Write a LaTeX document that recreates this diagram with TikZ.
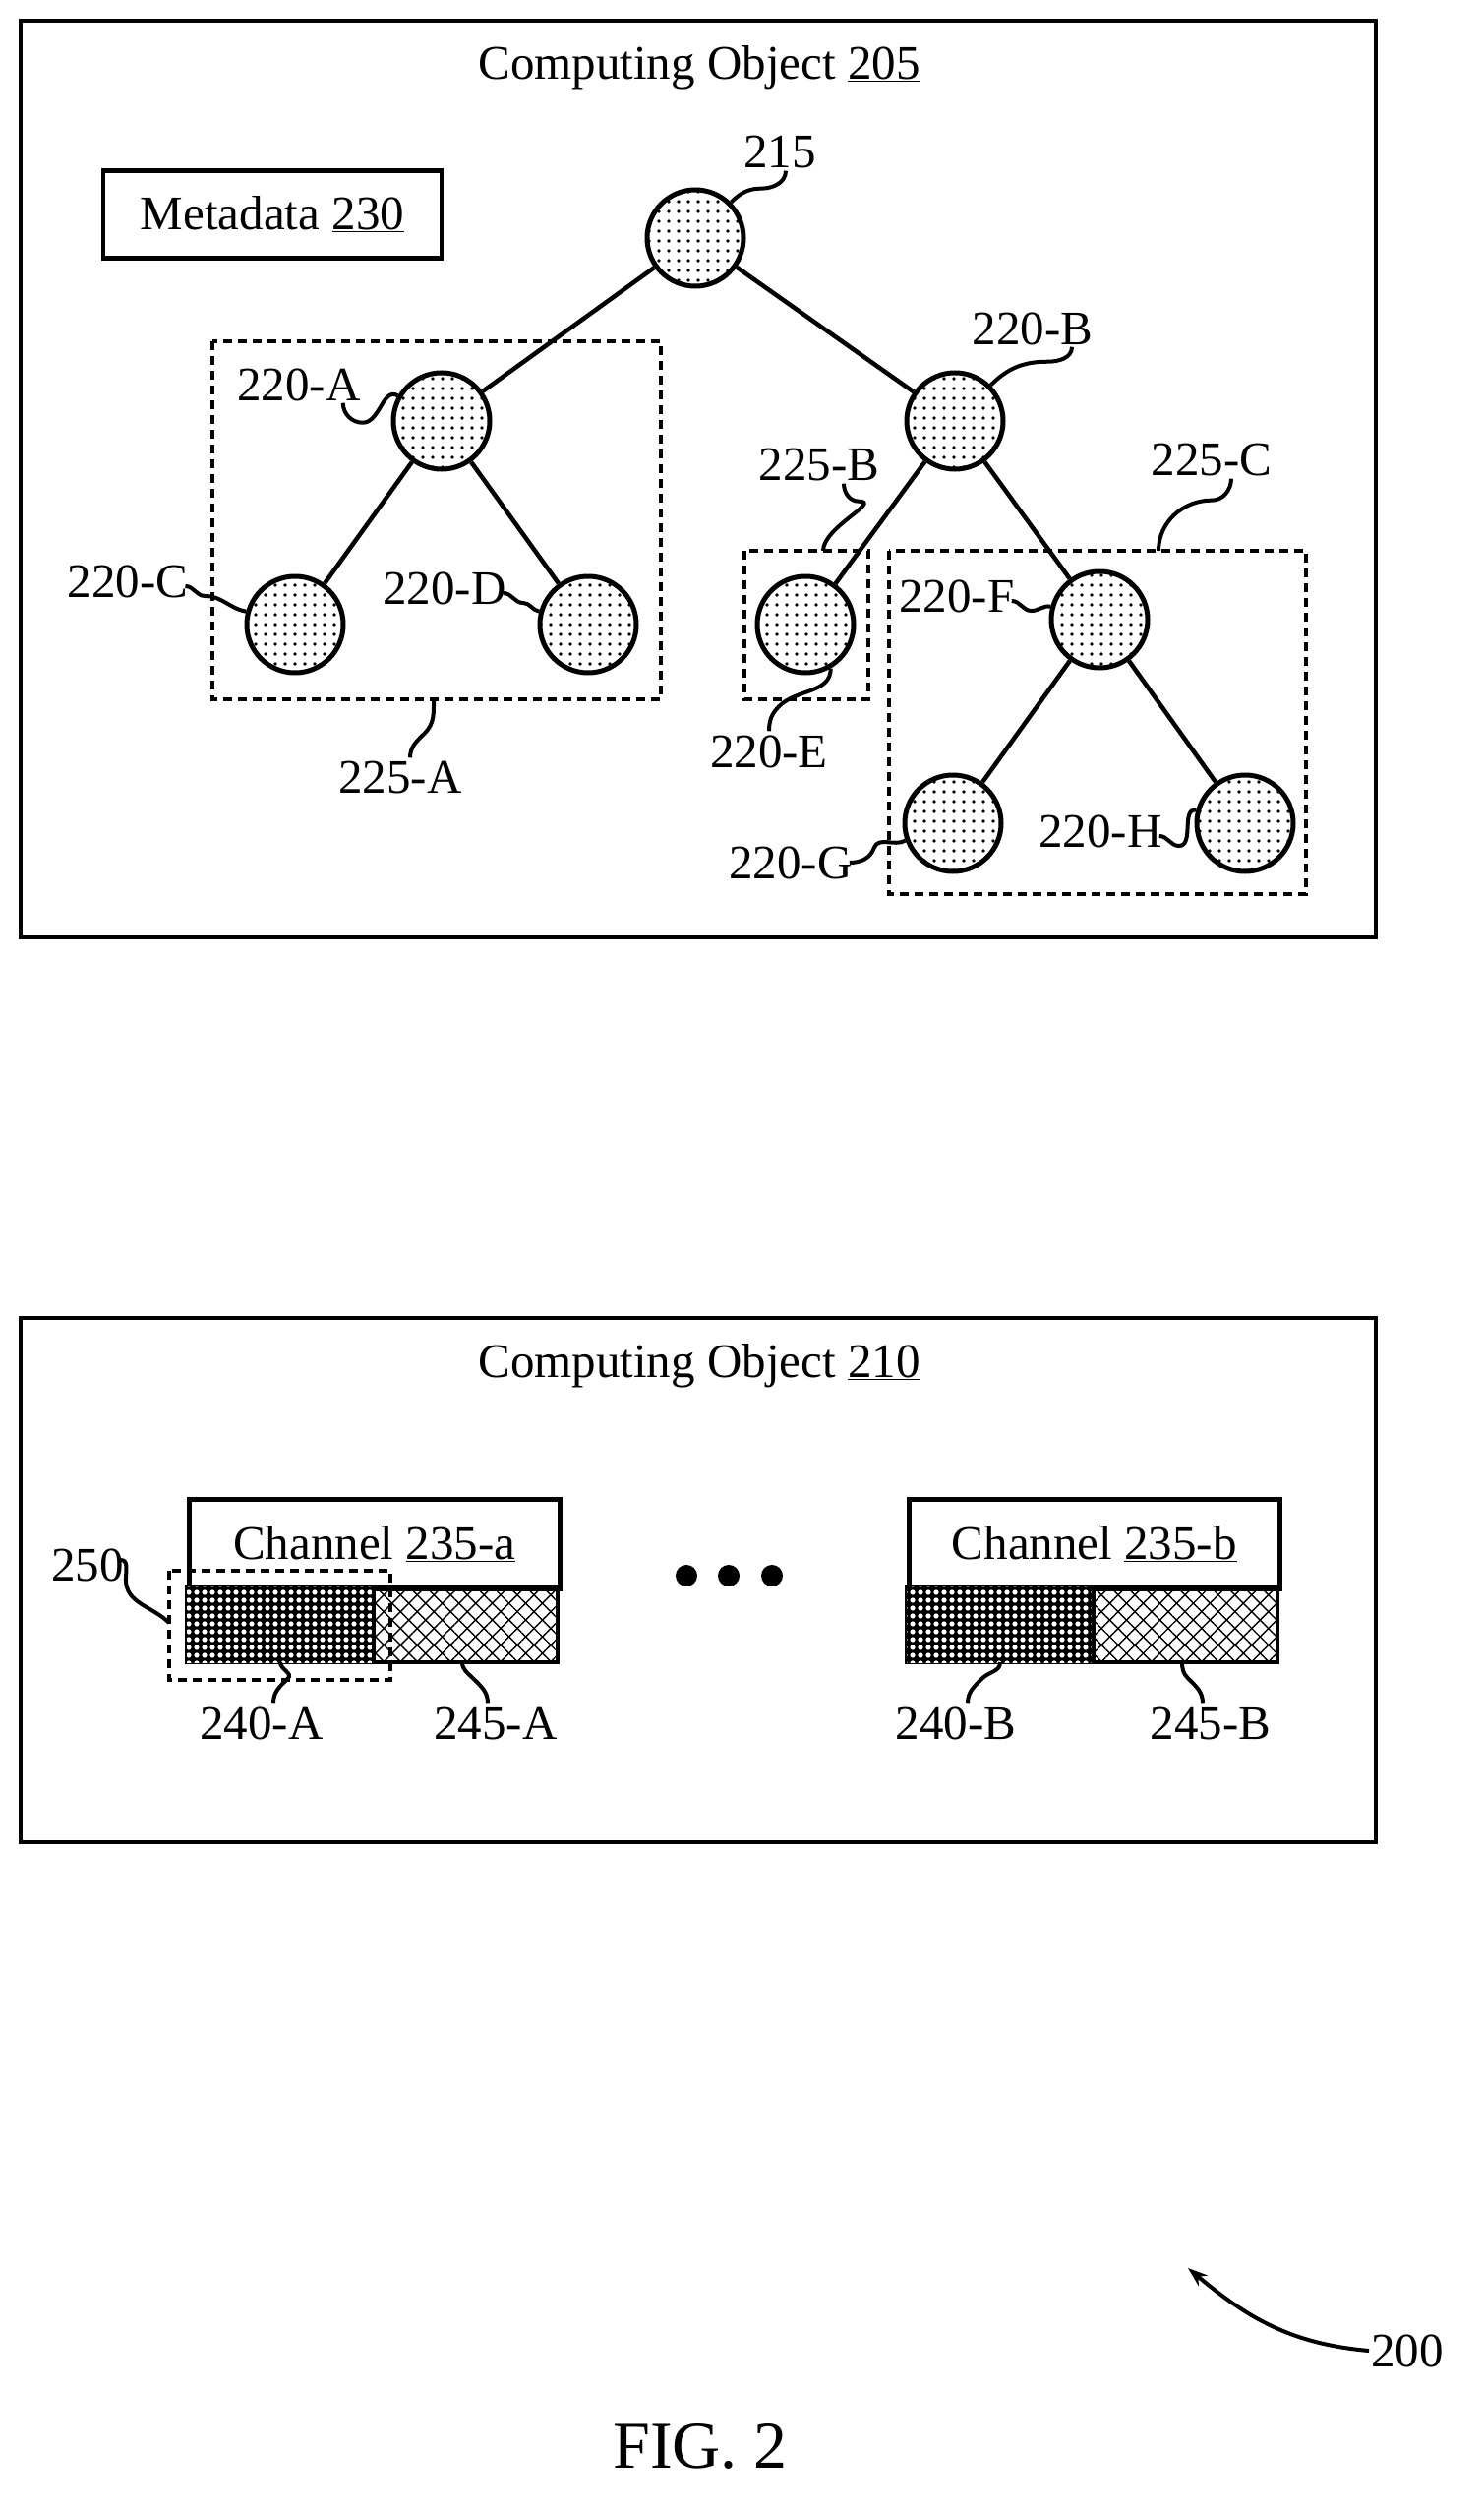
\documentclass[tikz,border=0pt]{standalone}
\usepackage{fontspec}
\setmainfont{Liberation Serif}
\usetikzlibrary{patterns.meta,arrows.meta}
\begin{document}
\begin{tikzpicture}[x=1pt,y=-1pt,
  every node/.style={font=\fontsize{49}{54}\selectfont},
  box/.style={draw,line width=4.5pt},
  dbox/.style={draw,line width=4pt,dash pattern=on 9pt off 6pt},
  tn/.style={circle,draw,line width=5pt,minimum size=98pt,inner sep=0pt,
     postaction={pattern={Dots[distance=10pt,radius=1.8pt]}}},
  edge/.style={line width=4.5pt},
  lead/.style={line width=4pt},
  lab/.style={inner sep=2pt}]
\useasboundingbox (0,0) rectangle (1508,2555);
% top box
\draw[box] (21,21) rectangle (1399,953);
\node (t1) at (711,69) {Computing Object \underline{205}};
\node[box,minimum width=344pt,minimum height=89pt] (meta) at (277,218) {Metadata \underline{230}};
% dashed groups
\draw[dbox] (216,347) rectangle (672,711);
\draw[dbox] (757,560) rectangle (883,711);
\draw[dbox] (904,560) rectangle (1328,909);
% nodes
\node[tn] (n215) at (707,242) {};
\node[tn] (nA) at (449,428) {};
\node[tn] (nB) at (971,428) {};
\node[tn] (nC) at (300,635) {};
\node[tn] (nD) at (598,635) {};
\node[tn] (nE) at (819,635) {};
\node[tn] (nF) at (1118,630) {};
\node[tn] (nG) at (969,837) {};
\node[tn] (nH) at (1266,837) {};
\draw[edge] (n215)--(nA) (n215)--(nB) (nA)--(nC) (nA)--(nD) (nB)--(nE) (nB)--(nF) (nF)--(nG) (nF)--(nH);
% labels
\node[lab] (l215) at (793,155) {215};
\node[lab] (lB) at (1050,334) {220-B};
\node[lab] (lA) at (304,391) {220-A};
\node[lab] (l25B) at (833,473) {225-B};
\node[lab] (l25C) at (1232,468) {225-C};
\node[lab] (lC) at (130,591) {220-C};
\node[lab] (lD) at (452,598) {220-D};
\node[lab] (lF) at (973,606) {220-F};
\node[lab] (lE) at (782,764) {220-E};
\node[lab] (l25A) at (407,791) {225-A};
\node[lab] (lG) at (804,877) {220-G};
\node[lab] (lH) at (1119,845) {220-H};
\draw[lead] (l215.south) ++(6,0) to[out=-90,in=0] ++(-25,18) to[out=180,in=45] (n215.45);
\draw[lead] (lB.south) ++(40,0) to[out=-90,in=0] ++(-25,15) to[out=180,in=45] (nB.45);
\draw[lead] (lA.south east) ++(-20,0) to[out=-90,in=180] ++(20,20) to[out=0,in=150] (nA.150);
\draw[lead] (l25B.south) ++(25,0) to[out=-90,in=180] ++(15,18) to[out=0,in=90] (837,560);
\draw[lead] (l25C.south) ++(20,0) to[out=-90,in=0] ++(-20,22) to[out=180,in=90] (1178,560);
\draw[lead] (lC.east) ++(-5,5) to[out=0,in=180] ++(20,10) to[out=0,in=170] (nC.165);
\draw[lead] (lD.east) ++(-5,5) to[out=0,in=180] ++(20,10) to[out=0,in=170] (nD.165);
\draw[lead] (lF.east) ++(-5,5) to[out=0,in=180] ++(20,10) to[out=0,in=170] (nF.165);
\draw[lead] (lH.east) ++(-5,5) to[out=0,in=180] ++(20,10) to[out=0,in=170] (nH.165);
\draw[lead] (lE.north) ++(0,-2) to[out=90,in=-135] ++(10,-25) to[out=45,in=-90] (nE.-60);
\draw[lead] (l25A.north) ++(10,-2) to[out=90,in=-135] ++(15,-25) to[out=45,in=-90] (441,711);
\draw[lead] (lG.east) ++(-5,0) to[out=0,in=-110] ++(25,-15) to[out=70,in=-150] (nG.200);
% bottom box
\draw[box] (21,1340) rectangle (1399,1873);
\node (t2) at (711,1389) {Computing Object \underline{210}};
% channel a
\node[box,minimum width=377pt,minimum height=91pt,anchor=north west] (cha) at (190,1522) {Channel \underline{235-a}};
\path[draw,line width=4.5pt,fill=black,postaction={pattern={Dots[distance=8pt,radius=2.6pt]},pattern color=white}] (190,1613) rectangle (380,1690);
\path[draw,line width=4.5pt,postaction={pattern={Lines[angle=45,distance=12pt,line width=1.4pt]}},postaction={pattern={Lines[angle=-45,distance=12pt,line width=1.4pt]}}] (380,1613) rectangle (567,1690);
\coordinate (a1) at (285,1690);
\coordinate (a2) at (470,1690);
\draw[dbox] (172,1597) rectangle (397,1708);
% channel b
\node[box,minimum width=377pt,minimum height=91pt,anchor=north west] (chb) at (922,1522) {Channel \underline{235-b}};
\path[draw,line width=4.5pt,fill=black,postaction={pattern={Dots[distance=8pt,radius=2.6pt]},pattern color=white}] (922,1613) rectangle (1112,1690);
\path[draw,line width=4.5pt,postaction={pattern={Lines[angle=45,distance=12pt,line width=1.4pt]}},postaction={pattern={Lines[angle=-45,distance=12pt,line width=1.4pt]}}] (1112,1613) rectangle (1299,1690);
\coordinate (b1) at (1017,1690);
\coordinate (b2) at (1202,1690);
% dots
\fill (698,1602) circle (11) (741,1602) circle (11) (785,1602) circle (11);
% labels
\node[lab] (l250) at (89,1591) {250};
\node[lab] (l240A) at (266,1752) {240-A};
\node[lab] (l245A) at (504,1752) {245-A};
\node[lab] (l240B) at (972,1752) {240-B};
\node[lab] (l245B) at (1231,1752) {245-B};
\coordinate (d250) at (172,1650);
\draw[lead] (l250.east) ++(-5,-5) to[out=0,in=90] ++(5,20) to[out=-90,in=135] (d250);
\draw[lead] (l240A.north) ++(12,-2) to[out=90,in=-135] ++(15,-25) to[out=45,in=-90] (a1);
\draw[lead] (l245A.north) ++(-8,-2) to[out=90,in=-45] ++(-15,-25) to[out=135,in=-90] (a2);
\draw[lead] (l240B.north) ++(12,-2) to[out=90,in=-135] ++(15,-25) to[out=45,in=-90] (b1);
\draw[lead] (l245B.north) ++(-8,-2) to[out=90,in=-45] ++(-15,-25) to[out=135,in=-90] (b2);
% 200
\node[lab] (l200) at (1431,2390) {200};
\coordinate (p200) at (1208,2306);
\draw[lead,-{Stealth[length=20pt,width=14pt]}] (l200.west) to[out=175,in=-40] (p200);
\node (fig) at (712,2487) {\fontsize{68}{74}\selectfont FIG. 2};
\end{tikzpicture}
\end{document}
